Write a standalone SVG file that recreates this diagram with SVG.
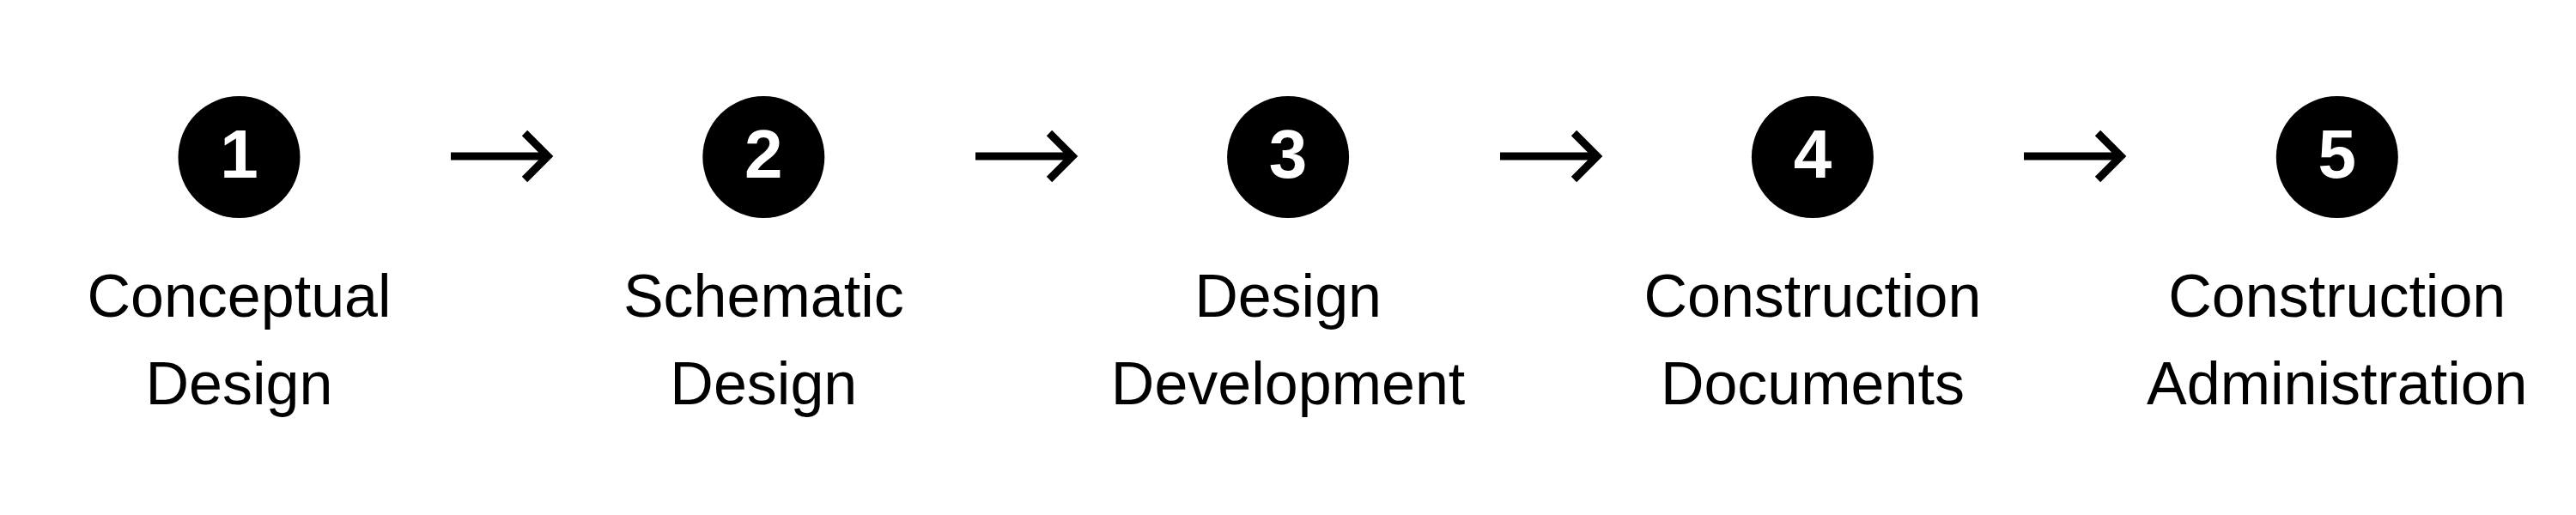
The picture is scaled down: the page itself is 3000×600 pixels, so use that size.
<svg xmlns="http://www.w3.org/2000/svg" width="3000" height="600" viewBox="0 0 3000 600">
<style>
.dot{fill:#000}
.num{font-family:"Liberation Sans",Arial,sans-serif;font-weight:bold;font-size:80px;fill:#fff;text-anchor:middle}
.lbl{font-family:"Liberation Sans",Arial,sans-serif;font-size:70px;fill:#000;text-anchor:middle}
.arr{fill:none;stroke:#000;stroke-width:9;stroke-linecap:butt;stroke-linejoin:miter}
</style>
<rect width="3000" height="600" fill="#fff"/>
<g id="connectors">
<path class="arr" d="M525 182H638M611 155L638 182L611 209"/>
<path class="arr" d="M1136 182H1249M1222 155L1249 182L1222 209"/>
<path class="arr" d="M1747 182H1860M1833 155L1860 182L1833 209"/>
<path class="arr" d="M2357 182H2470M2443 155L2470 182L2443 209"/>
</g>
<g id="node1">
<circle class="dot" cx="278.5" cy="183" r="71"/>
<text class="num" x="278.5" y="207">1</text>
<text class="lbl" x="278.5" y="369">Conceptual</text>
<text class="lbl" x="278.5" y="471">Design</text>
</g>
<g id="node2">
<circle class="dot" cx="889.3" cy="183" r="71"/>
<text class="num" x="889.3" y="207">2</text>
<text class="lbl" x="889.3" y="369">Schematic</text>
<text class="lbl" x="889.3" y="471">Design</text>
</g>
<g id="node3">
<circle class="dot" cx="1500.1" cy="183" r="71"/>
<text class="num" x="1500.1" y="207">3</text>
<text class="lbl" x="1500.1" y="369">Design</text>
<text class="lbl" x="1500.1" y="471">Development</text>
</g>
<g id="node4">
<circle class="dot" cx="2110.9" cy="183" r="71"/>
<text class="num" x="2110.9" y="207">4</text>
<text class="lbl" x="2110.9" y="369">Construction</text>
<text class="lbl" x="2110.9" y="471">Documents</text>
</g>
<g id="node5">
<circle class="dot" cx="2721.8" cy="183" r="71"/>
<text class="num" x="2721.8" y="207">5</text>
<text class="lbl" x="2721.8" y="369">Construction</text>
<text class="lbl" x="2721.8" y="471">Administration</text>
</g>
</svg>
